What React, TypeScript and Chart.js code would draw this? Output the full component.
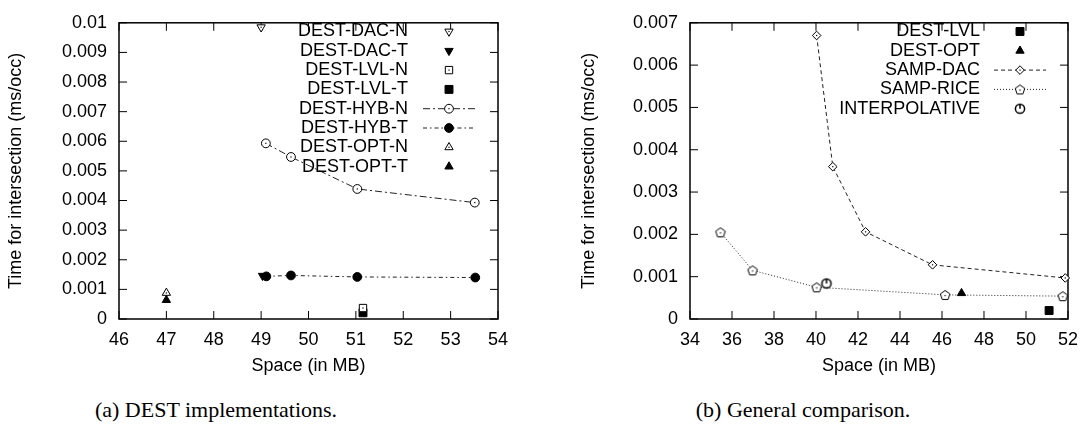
import React, { useEffect, useRef } from 'react';
import { Chart, registerables } from 'chart.js';
import { drawPoint } from 'chart.js/helpers';

Chart.register(...registerables);

const FONT = '"Liberation Sans", Arial, sans-serif';

// ---------- (a) DEST implementations ----------
const leftXTickLabels = ['46', '47', '48', '49', '50', '51', '52', '53', '54'];
const leftYTickLabels = ['0', '0.001', '0.002', '0.003', '0.004', '0.005', '0.006', '0.007', '0.008', '0.009', '0.01'];
const destDacNX = [49.0];
const destDacNY = [0.00985];
const destDacTX = [49.03];
const destDacTY = [0.00146];
const destLvlNX = [51.15];
const destLvlNY = [0.00037];
const destLvlTX = [51.15];
const destLvlTY = [0.00021];
const destHybNX = [49.1, 49.63, 51.03, 53.51];
const destHybNY = [0.00593, 0.00547, 0.00439, 0.00393];
const destHybTX = [49.11, 49.63, 51.03, 53.52];
const destHybTY = [0.00144, 0.00147, 0.00142, 0.0014];
const destOptNX = [47.0];
const destOptNY = [0.00088];
const destOptTX = [47.0];
const destOptTY = [0.00064];

// ---------- (b) General comparison ----------
const rightXTickLabels = ['34', '36', '38', '40', '42', '44', '46', '48', '50', '52'];
const rightYTickLabels = ['0', '0.001', '0.002', '0.003', '0.004', '0.005', '0.006', '0.007'];
const genLvlX = [51.1];
const genLvlY = [0.0002];
const genOptX = [46.93];
const genOptY = [0.00061];
const sampDacX = [40.03, 40.8, 42.36, 45.55, 51.87];
const sampDacY = [0.0067, 0.0036, 0.00206, 0.00128, 0.00097];
const sampRiceX = [35.45, 36.98, 40.03, 46.15, 51.75];
const sampRiceY = [0.00205, 0.00115, 0.00075, 0.00057, 0.00054];
const interpX = [40.5];
const interpY = [0.00084];

const pts = (xs: number[], ys: number[]) => xs.map((x, i) => ({ x, y: ys[i] }));

function makePentagon(): HTMLCanvasElement {
  const c = document.createElement('canvas');
  c.width = 14;
  c.height = 14;
  const g = c.getContext('2d')!;
  g.fillStyle = '#fff';
  g.strokeStyle = '#000';
  g.lineWidth = 1;
  g.beginPath();
  for (let k = 0; k < 5; k++) {
    const a = -Math.PI / 2 + (k * 2 * Math.PI) / 5;
    const px = 7 + 5 * Math.cos(a);
    const py = 7.5 + 5 * Math.sin(a);
    if (k === 0) g.moveTo(px, py);
    else g.lineTo(px, py);
  }
  g.closePath();
  g.fill();
  g.stroke();
  g.fillStyle = '#000';
  g.fillRect(6.4, 7, 1.2, 1.2);
  return c;
}

function makeInterp(): HTMLCanvasElement {
  const c = document.createElement('canvas');
  c.width = 14;
  c.height = 14;
  const g = c.getContext('2d')!;
  g.fillStyle = '#fff';
  g.strokeStyle = '#000';
  g.lineWidth = 1.5;
  g.beginPath();
  g.arc(7, 7, 4.6, 0, Math.PI * 2);
  g.fill();
  g.stroke();
  g.beginPath();
  g.moveTo(7, 2.4);
  g.lineTo(7, 7);
  g.stroke();
  return c;
}

const gpFrame = {
  id: 'gpFrame',
  beforeDatasetsDraw(chart: any) {
    const { ctx, chartArea: a } = chart;
    const xs = chart.scales.x;
    const ys = chart.scales.y;
    const L = 8;
    ctx.save();
    ctx.strokeStyle = '#000';
    ctx.lineWidth = 1;
    ctx.setLineDash([]);
    const line = (x1: number, y1: number, x2: number, y2: number) => {
      ctx.beginPath();
      ctx.moveTo(x1, y1);
      ctx.lineTo(x2, y2);
      ctx.stroke();
    };
    xs.ticks.forEach((t: any) => {
      const px = xs.getPixelForValue(t.value);
      line(px, a.bottom, px, a.bottom - L);
      line(px, a.top, px, a.top + L);
    });
    ys.ticks.forEach((t: any) => {
      const py = ys.getPixelForValue(t.value);
      line(a.left, py, a.left + L, py);
      line(a.right, py, a.right - L, py);
    });
    ctx.lineWidth = 1.5;
    ctx.strokeRect(a.left, a.top, a.right - a.left, a.bottom - a.top);
    ctx.restore();
  },
  afterDatasetsDraw(chart: any) {
    const ctx = chart.ctx;
    ctx.save();
    ctx.fillStyle = '#000';
    chart.data.datasets.forEach((ds: any, i: number) => {
      if (!ds.hollowDot) return;
      const meta = chart.getDatasetMeta(i);
      meta.data.forEach((el: any) => {
        ctx.fillRect(el.x - 0.6, el.y - 0.6, 1.2, 1.2);
      });
    });
    ctx.restore();
  },
};

const gpLegend = {
  id: 'gpLegend',
  afterDraw(chart: any, _args: any, opts: any) {
    const ctx = chart.ctx;
    ctx.save();
    chart.data.datasets.forEach((ds: any, i: number) => {
      const y = opts.top + i * opts.spacing;
      ctx.font = `18px ${FONT}`;
      ctx.fillStyle = '#000';
      ctx.textAlign = 'right';
      ctx.textBaseline = 'middle';
      ctx.fillText(ds.label, opts.textRight, y);
      if (ds.showLine) {
        ctx.strokeStyle = ds.borderColor;
        ctx.lineWidth = ds.borderWidth;
        ctx.setLineDash(ds.borderDash || []);
        ctx.beginPath();
        ctx.moveTo(opts.lineX1, y);
        ctx.lineTo(opts.lineX2, y);
        ctx.stroke();
        ctx.setLineDash([]);
      }
      ctx.fillStyle = ds.pointBackgroundColor;
      ctx.strokeStyle = ds.pointBorderColor;
      ctx.lineWidth = ds.pointBorderWidth;
      drawPoint(
        ctx,
        {
          pointStyle: ds.pointStyle,
          rotation: ds.pointRotation || 0,
          radius: ds.pointRadius,
          borderWidth: ds.pointBorderWidth,
        } as any,
        opts.markerX,
        y
      );
      if (ds.hollowDot) {
        ctx.fillStyle = '#000';
        ctx.fillRect(opts.markerX - 0.6, y - 0.6, 1.2, 1.2);
      }
    });
    ctx.restore();
  },
};

function marker(style: any, radius: number, filled: boolean, rotation = 0) {
  return {
    pointStyle: style,
    pointRadius: radius,
    pointRotation: rotation,
    pointBackgroundColor: filled ? '#000' : '#fff',
    pointBorderColor: '#000',
    pointBorderWidth: 1,
    hollowDot: !filled && typeof style === 'string',
    showLine: false,
    clip: false as any,
  };
}

function lineStyle(dash: number[]) {
  return {
    showLine: true,
    borderColor: '#222',
    borderWidth: 1,
    borderDash: dash,
    clip: false as any,
  };
}

const H = 385;

function makeOptions(cfg: {
  xmin: number;
  xmax: number;
  xstep: number;
  xLabels: string[];
  ymax: number;
  yLabels: string[];
  padLeft: number;
  padRight: number;
  yWidth: number;
  legend: any;
}) {
  const tickFont = { family: FONT, size: 18 };
  return {
    responsive: false,
    animation: false as const,
    devicePixelRatio: 1,
    events: [],
    layout: { padding: { left: cfg.padLeft, top: 12, right: cfg.padRight, bottom: 0 } },
    plugins: {
      legend: { display: false },
      tooltip: { enabled: false },
      gpLegend: cfg.legend,
    },
    scales: {
      x: {
        type: 'linear' as const,
        min: cfg.xmin,
        max: cfg.xmax,
        grid: { display: false, drawTicks: false },
        border: { display: false },
        ticks: {
          stepSize: cfg.xstep,
          autoSkip: false,
          maxRotation: 0,
          color: '#000',
          font: tickFont,
          padding: 10,
          callback: (_v: any, i: number) => cfg.xLabels[i],
        },
        title: {
          display: true,
          text: 'Space (in MB)',
          color: '#000',
          font: tickFont,
          padding: { top: 0, bottom: 8 },
        },
        afterFit: (s: any) => {
          s.height = H - 319;
        },
      },
      y: {
        type: 'linear' as const,
        min: 0,
        max: cfg.ymax,
        grid: { display: false, drawTicks: false },
        border: { display: false },
        ticks: {
          stepSize: 0.001,
          maxTicksLimit: 20,
          color: '#000',
          font: tickFont,
          padding: 12,
          callback: (_v: any, i: number) => cfg.yLabels[i],
        },
        title: {
          display: true,
          text: 'Time for intersection (ms/occ)',
          color: '#000',
          font: tickFont,
          padding: { top: 5, bottom: 0 },
        },
        afterFit: (s: any) => {
          s.width = cfg.yWidth;
        },
      },
    },
  };
}

export default function App() {
  const leftRef = useRef<HTMLCanvasElement>(null);
  const rightRef = useRef<HTMLCanvasElement>(null);

  useEffect(() => {
    const pentagon = makePentagon();
    const interp = makeInterp();

    const left = new Chart(leftRef.current!, {
      type: 'scatter',
      data: {
        datasets: [
          { label: 'DEST-DAC-N', data: pts(destDacNX, destDacNY), ...marker('triangle', 4.8, false, 180) },
          { label: 'DEST-DAC-T', data: pts(destDacTX, destDacTY), ...marker('triangle', 4.8, true, 180) },
          { label: 'DEST-LVL-N', data: pts(destLvlNX, destLvlNY), ...marker('rect', 5.2, false) },
          { label: 'DEST-LVL-T', data: pts(destLvlTX, destLvlTY), ...marker('rect', 5.6, true) },
          { label: 'DEST-HYB-N', data: pts(destHybNX, destHybNY), ...marker('circle', 4.4, false), ...lineStyle([7, 3, 2, 3]) },
          { label: 'DEST-HYB-T', data: pts(destHybTX, destHybTY), ...marker('circle', 4.4, true), ...lineStyle([4, 3, 1.5, 3]) },
          { label: 'DEST-OPT-N', data: pts(destOptNX, destOptNY), ...marker('triangle', 4.8, false) },
          { label: 'DEST-OPT-T', data: pts(destOptTX, destOptTY), ...marker('triangle', 4.8, true) },
        ] as any,
      },
      options: makeOptions({
        xmin: 46,
        xmax: 54,
        xstep: 1,
        xLabels: leftXTickLabels,
        ymax: 0.01,
        yLabels: leftYTickLabels,
        padLeft: 0,
        padRight: 46,
        yWidth: 119,
        legend: { top: 31.5, spacing: 19.3, textRight: 408, markerX: 449, lineX1: 423, lineX2: 475 },
      }) as any,
      plugins: [gpFrame, gpLegend],
    });

    const right = new Chart(rightRef.current!, {
      type: 'scatter',
      data: {
        datasets: [
          { label: 'DEST-LVL', data: pts(genLvlX, genLvlY), ...marker('rect', 5.6, true) },
          { label: 'DEST-OPT', data: pts(genOptX, genOptY), ...marker('triangle', 4.8, true) },
          { label: 'SAMP-DAC', data: pts(sampDacX, sampDacY), ...marker('rectRot', 4.3, false), ...lineStyle([4, 3]) },
          { label: 'SAMP-RICE', data: pts(sampRiceX, sampRiceY), ...marker(pentagon, 5, false), ...lineStyle([1, 2]) },
          { label: 'INTERPOLATIVE', data: pts(interpX, interpY), ...marker(interp, 5, false) },
        ] as any,
      },
      options: makeOptions({
        xmin: 34,
        xmax: 52,
        xstep: 2,
        xLabels: rightXTickLabels,
        ymax: 0.007,
        yLabels: rightYTickLabels,
        padLeft: 29,
        padRight: 16,
        yWidth: 117,
        legend: { top: 31.5, spacing: 19.3, textRight: 436, markerX: 476, lineX1: 450, lineX2: 502 },
      }) as any,
      plugins: [gpFrame, gpLegend],
    });

    return () => {
      left.destroy();
      right.destroy();
    };
  }, []);

  const captionStyle: React.CSSProperties = {
    position: 'absolute',
    top: 398,
    fontFamily: '"Liberation Serif", "Times New Roman", serif',
    fontSize: 22,
    lineHeight: '24px',
    color: '#000',
    textAlign: 'center',
    whiteSpace: 'nowrap',
  };

  return (
    <div style={{ position: 'absolute', left: 0, top: 0, width: 1088, height: 427, background: '#fff', overflow: 'hidden' }}>
      <canvas ref={leftRef} width={544} height={H} style={{ position: 'absolute', left: 0, top: 0, width: 544, height: H }} />
      <canvas ref={rightRef} width={544} height={H} style={{ position: 'absolute', left: 544, top: 0, width: 544, height: H }} />
      <div style={{ ...captionStyle, left: 16, width: 400 }}>(a) DEST implementations.</div>
      <div style={{ ...captionStyle, left: 603, width: 400 }}>(b) General comparison.</div>
    </div>
  );
}
